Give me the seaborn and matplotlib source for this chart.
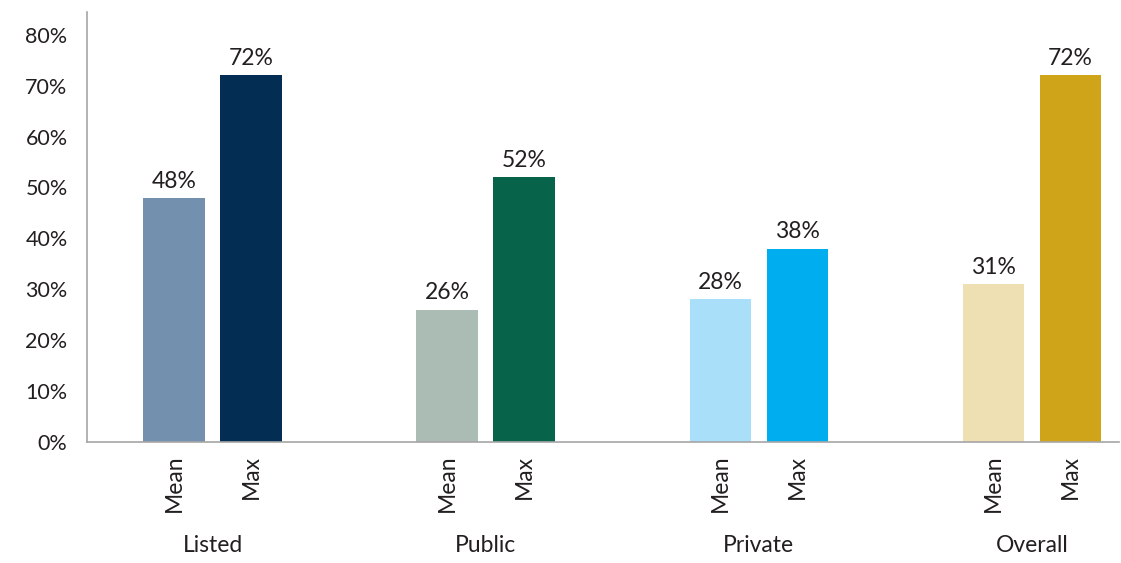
import matplotlib
matplotlib.use("Agg")
import matplotlib.pyplot as plt
import seaborn as sns
import pandas as pd

groups = ["Listed", "Public", "Private", "Overall"]
stats = ["Mean", "Max"]
mean_vals = [48, 26, 28, 31]
max_vals = [72, 52, 38, 72]
mean_colors = ["#7390ae", "#aabcb4", "#a9dff8", "#efe0b4"]
max_colors = ["#032d52", "#07644a", "#00aeef", "#d0a419"]

df = pd.DataFrame({
    "group": groups * 2,
    "stat": ["Mean"] * 4 + ["Max"] * 4,
    "value": mean_vals + max_vals,
})

sns.set_style("white")
plt.rcParams["font.family"] = ["Lato", "DejaVu Sans"]
text_color = "#231f20"
axis_color = "#a6a6a6"

fig = plt.figure(figsize=(11.21, 5.63), dpi=100)
ax = fig.add_axes([0.0776, 0.215, 0.921, 0.764])

sns.barplot(data=df, x="group", y="value", hue="stat", order=groups,
            hue_order=stats, width=0.564, gap=0.2, ax=ax, legend=False)

# colour every bar on its own, and label it
bar_colors = mean_colors + max_colors
bar_names = ["Mean"] * 4 + ["Max"] * 4
for patch, col, name in zip(ax.patches, bar_colors, bar_names):
    patch.set_facecolor(col)
    patch.set_edgecolor("none")
    cx = patch.get_x() + patch.get_width() / 2
    h = patch.get_height()
    ax.text(cx, h + 1.2, f"{h:.0f}%", ha="center", va="bottom",
            fontsize=16.5, color=text_color)
    ax.text(cx, -0.03, name, transform=ax.get_xaxis_transform(),
            rotation=90, ha="center", va="top", fontsize=16.5, color=text_color)

ax.set_xlim(-0.46, 3.32)
ax.set_ylim(0, 84.5)
ax.set_yticks(range(0, 81, 10))
ax.set_yticklabels([f"{v}%" for v in range(0, 81, 10)], fontsize=15.5, color=text_color)
ax.set_xticks(range(len(groups)))
ax.set_xticklabels(groups, fontsize=16.5, color=text_color)
ax.tick_params(axis="x", length=0, pad=67)
ax.tick_params(axis="y", length=6, width=1, color=axis_color, direction="out", pad=8)
ax.set_xlabel("")
ax.set_ylabel("")

for side in ["top", "right"]:
    ax.spines[side].set_visible(False)
for side in ["left", "bottom"]:
    ax.spines[side].set_color(axis_color)
    ax.spines[side].set_linewidth(1.2)

fig.savefig("out.png", dpi=100)
